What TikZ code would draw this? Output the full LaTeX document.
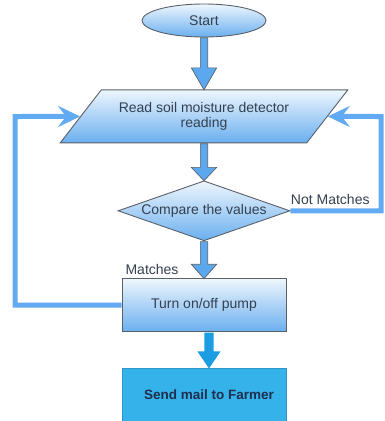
\documentclass[tikz,border=0pt]{standalone}
\usepackage{fontspec}
\setmainfont{Liberation Sans}
\usetikzlibrary{shapes.geometric, shapes.arrows, arrows.meta, positioning}

\definecolor{flowtop}{HTML}{EEF6FD}
\definecolor{flowbot}{HTML}{6AAFEF}
\definecolor{flowedge}{HTML}{5A6068}
\definecolor{looplink}{HTML}{62ABF2}
\definecolor{blockfill}{HTML}{5CA8EE}
\definecolor{mailfill}{HTML}{36B2EA}
\definecolor{mailarrow}{HTML}{1C9DE2}
\definecolor{labeltext}{HTML}{34404F}
\definecolor{mailtext}{HTML}{1E2E4E}

\begin{document}
\begin{tikzpicture}[
  x=1pt, y=-1pt,
  font=\fontsize{14}{15.5}\selectfont,
  node distance=37pt,
  flow_node/.style={draw=flowedge, line width=0.9pt, top color=flowtop, bottom color=flowbot, text=labeltext, align=center, inner sep=2pt},
  start_box/.style={flow_node, ellipse, minimum width=124pt, minimum height=33pt},
  io_box/.style={flow_node, trapezium, trapezium left angle=43, trapezium right angle=137, trapezium stretches=true, minimum width=288pt, minimum height=53pt},
  decision_box/.style={flow_node, diamond, aspect=2.9, minimum width=172pt, minimum height=60pt, inner sep=0pt},
  process_box/.style={flow_node, rectangle, minimum width=164pt, minimum height=53pt},
  mail_box/.style={rectangle, draw=mailfill!85!black, fill=mailfill, text=mailtext, font=\fontsize{13.5}{15}\selectfont\bfseries, minimum width=164pt, minimum height=53pt},
  block_arrow/.style={single arrow, shape border rotate=270, anchor=tail, draw=flowedge, line width=0.7pt, fill=blockfill, inner xsep=3.3pt, inner ysep=0pt, single arrow head extend=9pt},
  loop_arrow/.style={draw=looplink, line width=5pt, -{Stealth[length=22pt, width=21pt, inset=8pt]}},
  edge_label/.style={text=labeltext}
]

\useasboundingbox (0,0) rectangle (384,421);

% Steps
\node[start_box] (start) at (204,20.5) {Start};
\node[io_box, below=52pt of start] (read) {Read soil moisture detector\\reading};
\node[decision_box, below=of read] (cmp) {Compare the values};
\node[process_box, below=of cmp] (pump) {Turn on/off pump};
\node[mail_box, below=36pt of pump] (mail) {\hspace*{10pt}Send mail to Farmer};

% Block arrows between steps
\node[block_arrow, minimum height=52pt, single arrow tip angle=60] (a_start) at (start.south) {};
\node[block_arrow, minimum height=37pt, single arrow tip angle=87] (a_read) at (read.south) {};
\node[block_arrow, minimum height=37pt, single arrow tip angle=83] (a_cmp) at (cmp.south) {};
\node[block_arrow, draw=none, fill=mailarrow, inner xsep=4.2pt, single arrow head extend=7pt, minimum height=36pt, single arrow tip angle=68] (a_pump) at ([xshift=5pt]pump.south) {};

% Loop back to the reading step
\coordinate (loop_l) at (15,116.5);
\coordinate (loop_r) at (381,116.5);
\draw[loop_arrow] (pump.west) -| (loop_l) -- (read);
\draw[loop_arrow] (cmp.east) -| (loop_r) -- (read);

% Branch labels
\node[edge_label, above right=3pt and -3pt of cmp.east] (lbl_not) {Not Matches};
\node[edge_label, above left=0pt and 22pt of pump.north] (lbl_match) {Matches};

\end{tikzpicture}
\end{document}
